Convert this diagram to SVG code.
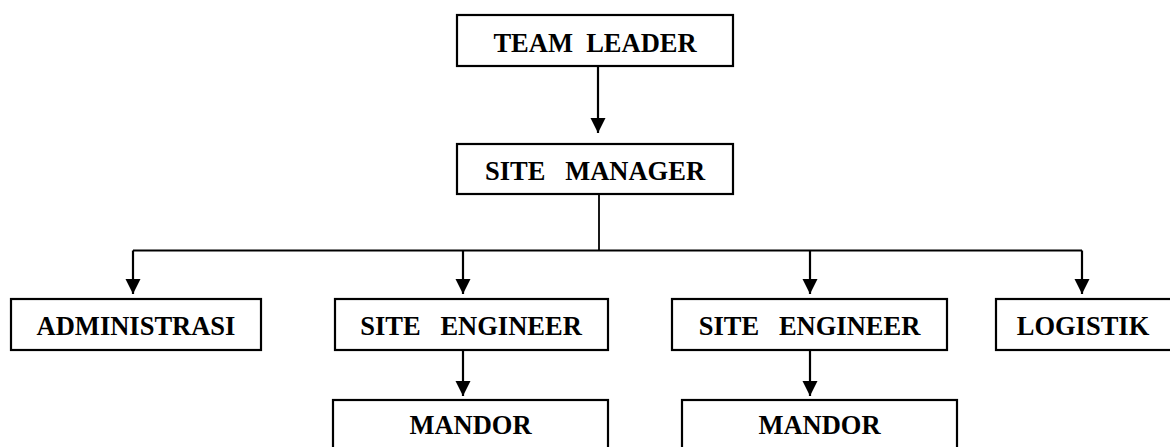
<svg xmlns="http://www.w3.org/2000/svg" width="1170" height="447" viewBox="0 0 1170 447">
<style>
.box{fill:#fff;stroke:#000;stroke-width:2.2}
.lbl{font-family:"Liberation Serif","Times New Roman",serif;font-weight:bold;font-size:26.5px;fill:#000;text-anchor:middle;white-space:pre}
.ln{fill:none;stroke:#000;stroke-width:2.2}
</style>
<defs>
<marker id="ah" markerUnits="userSpaceOnUse" markerWidth="16" markerHeight="16" refX="15" refY="8" orient="auto">
<path d="M0,0.5 L15,8 L0,15.5 Z" fill="#000"/>
</marker>
</defs>
<rect width="1170" height="447" fill="#fff"/>
<g id="connectors">
<path class="ln" d="M598,66 V133" marker-end="url(#ah)"/>
<path d="M599,195 V250" stroke="#000" stroke-width="1.8"/>
<path class="ln" d="M133,250.5 H1082"/>
<path class="ln" d="M133,250.5 V294" marker-end="url(#ah)"/>
<path class="ln" d="M463,250.5 V294" marker-end="url(#ah)"/>
<path class="ln" d="M810,250.5 V294" marker-end="url(#ah)"/>
<path class="ln" d="M1082,250.5 V294" marker-end="url(#ah)"/>
<path class="ln" d="M463,350 V396" marker-end="url(#ah)"/>
<path class="ln" d="M810,350 V396" marker-end="url(#ah)"/>
</g>
<g id="team-leader">
<rect class="box" x="457" y="15" width="276" height="51"/>
<text class="lbl" x="595" y="51.5" xml:space="preserve">TEAM  LEADER</text>
</g>
<g id="site-manager">
<rect class="box" x="457" y="144" width="276" height="50"/>
<text class="lbl" x="595" y="180" xml:space="preserve">SITE   MANAGER</text>
</g>
<g id="administrasi">
<rect class="box" x="11" y="299" width="250" height="51"/>
<text class="lbl" x="136" y="335">ADMINISTRASI</text>
</g>
<g id="site-engineer-1">
<rect class="box" x="335" y="299" width="273" height="51"/>
<text class="lbl" x="471" y="335" xml:space="preserve">SITE   ENGINEER</text>
</g>
<g id="site-engineer-2">
<rect class="box" x="672" y="299" width="275" height="51"/>
<text class="lbl" x="809.5" y="335" xml:space="preserve">SITE   ENGINEER</text>
</g>
<g id="logistik">
<rect class="box" x="996" y="299" width="190" height="51"/>
<text class="lbl" x="1083" y="335">LOGISTIK</text>
</g>
<g id="mandor-1">
<rect class="box" x="333" y="400" width="275" height="70"/>
<text class="lbl" x="470.5" y="434">MANDOR</text>
</g>
<g id="mandor-2">
<rect class="box" x="682" y="400" width="275" height="70"/>
<text class="lbl" x="819.5" y="434">MANDOR</text>
</g>
</svg>
